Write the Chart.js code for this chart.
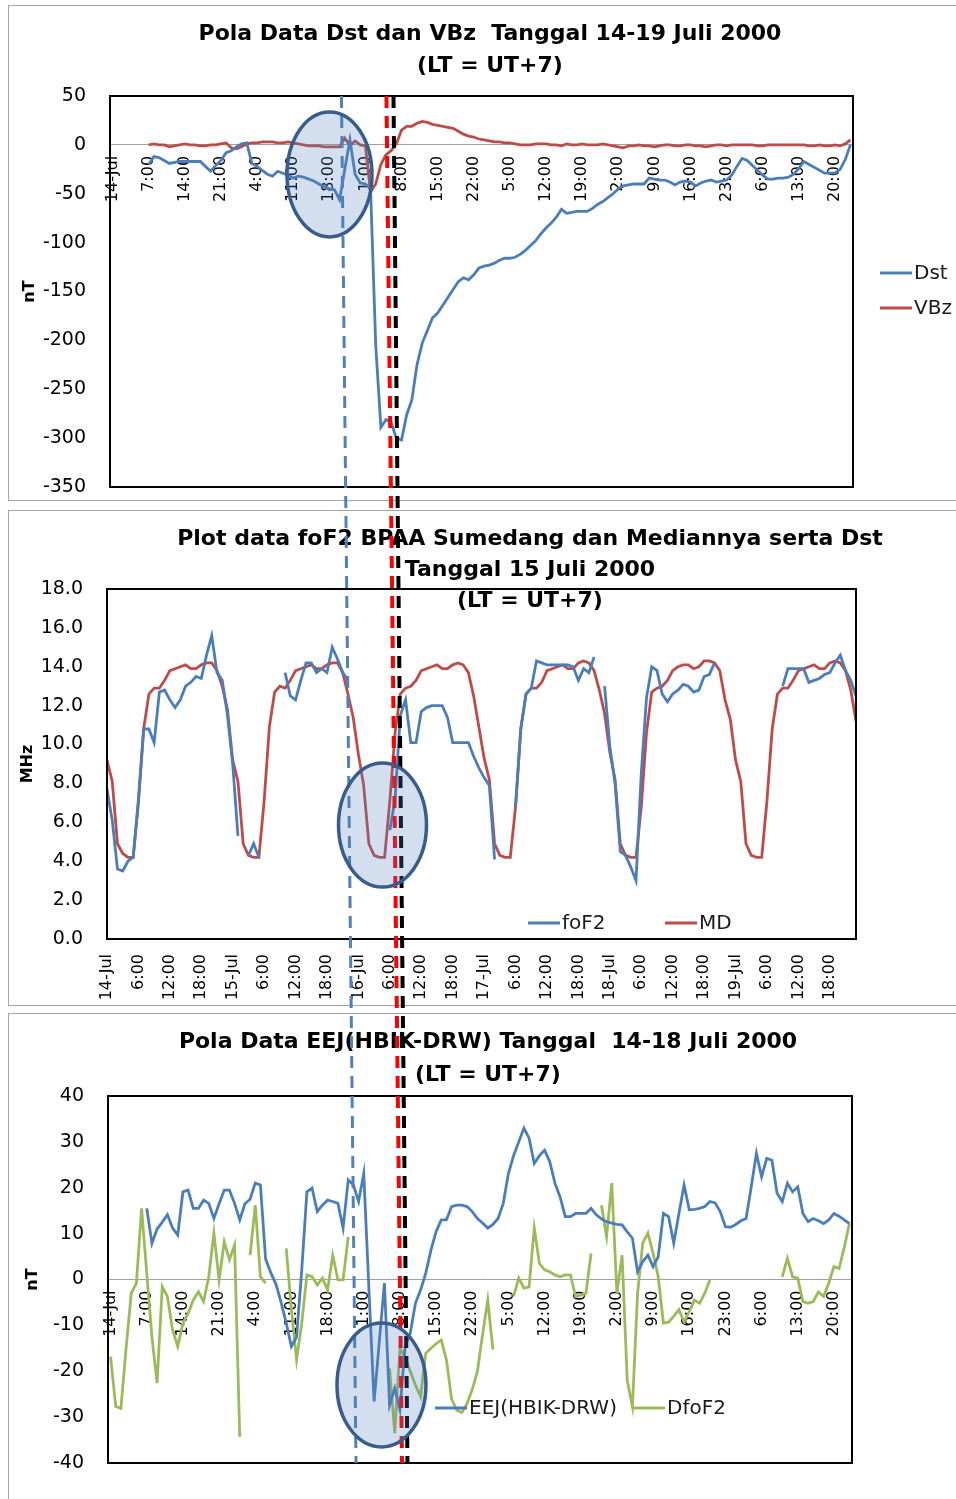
<!DOCTYPE html>
<html>
<head>
<meta charset="utf-8">
<script src="https://cdn.jsdelivr.net/npm/chart.js@4.4.1/dist/chart.umd.min.js"></script>
<style>
html,body{margin:0;padding:0;background:#fff;}
body{width:956px;height:1499px;overflow:hidden;position:relative;}
.panel{position:absolute;left:8px;width:960px;border:1px solid #a6a6a6;border-right:none;box-sizing:border-box;}
canvas{position:absolute;}
.title{position:absolute;width:900px;text-align:center;font-family:'DejaVu Sans',sans-serif;font-weight:bold;font-size:22px;white-space:pre;color:#000;}
</style>
</head>
<body>
<div class="panel" style="top:5px;height:496px"></div>
<div class="panel" style="top:510px;height:496px"></div>
<div class="panel" style="top:1013px;height:520px"></div>

<canvas id="c1" width="947" height="518" style="left:9px;top:6px;width:947px;height:518px"></canvas>
<canvas id="c2" width="947" height="494" style="left:9px;top:511px;width:947px;height:494px"></canvas>
<canvas id="c3" width="947" height="486" style="left:9px;top:1014px;width:947px;height:486px"></canvas>

<div class="title" style="left:40px;top:17px;line-height:32px">Pola Data Dst dan VBz  Tanggal 14-19 Juli 2000<br>(LT = UT+7)</div>
<div class="title" style="left:80px;top:522px;line-height:31px">Plot data foF2 BPAA Sumedang dan Mediannya serta Dst<br>Tanggal 15 Juli 2000<br>(LT = UT+7)</div>
<div class="title" style="left:38px;top:1024px;line-height:33px">Pola Data EEJ(HBIK-DRW) Tanggal  14-18 Juli 2000<br>(LT = UT+7)</div>

<canvas id="ov" width="956" height="1499" style="left:0;top:0;width:956px;height:1499px;pointer-events:none;z-index:10"></canvas>

<script>
// ---------------- categories / tick labels ----------------
const dayLabels = ['14-Jul', '15-Jul', '16-Jul', '17-Jul', '18-Jul', '19-Jul'];
const hourCategories = [];
for (let d = 0; d < dayLabels.length; d++) {
  for (let h = 0; h < 24; h++) hourCategories.push(h === 0 ? dayLabels[d] : h + ':00');
}
const dstYTicks = [-350, -300, -250, -200, -150, -100, -50, 0, 50];
const fof2YTicks = [0, 2, 4, 6, 8, 10, 12, 14, 16, 18];
const eejYTicks = [-40, -30, -20, -10, 0, 10, 20, 30, 40];
const labelEveryDstEej = 7;
const labelEveryFof2 = 6;

// ---------------- panel 1: Dst and VBz (nT) ----------------
const dst = [
  null,null,null,null,null,null,null,-20,-12,-13,-16,-19,-18,-17,-17,-17,-17,-17,-22,-27,-21,-16,-8,-6,
  -2,1,2,-19,-22,-26,-30,-32,-27,-29,-31,-34,-32,-33,-35,-37,-40,-43,-45,-46,-56,-25,5,-30,
  -39,-40,-45,-205,-289,-281,-284,-300,-302,-276,-261,-225,-203,-190,-177,-172,-164,-156,-148,-140,-136,-138,-133,-126,
  -124,-123,-121,-118,-116,-116,-115,-112,-108,-103,-98,-91,-85,-80,-74,-66,-70,-69,-68,-68,-68,-65,-61,-58,
  -54,-50,-45,-42,-41,-40,-40,-40,-34,-35,-36,-36,-38,-41,-38,-37,-38,-42,-39,-37,-36,-38,-37,-36,
  -31,-22,-14,-16,-21,-26,-31,-35,-35,-34,-34,-33,-30,-24,-17,-20,-23,-26,-29,-29,-29,-25,-15,0
];
const vbz = [
  null,null,null,null,null,null,null,0,1,0,0,-2,-1,0,1,0,0,-1,-1,0,0,1,2,-3,
  -4,-2,1,2,2,3,3,3,2,2,3,2,1,0,-1,-1,-1,-2,-2,-2,-2,7,-1,4,
  0,-1,-48,-40,-20,-10,-6,1,15,19,19,22,24,23,21,20,19,18,17,14,11,9,8,6,
  5,4,3,3,2,2,1,0,0,0,1,1,1,0,0,-1,1,0,0,1,0,0,0,1,
  0,-1,-2,-3,-1,-1,0,-1,-1,-2,-1,0,0,-1,-1,0,0,-1,-1,-2,-1,0,0,-1,
  0,0,0,0,0,-1,-1,0,0,0,0,0,0,0,0,-1,-1,0,-1,-1,0,-1,1,5
];

// ---------------- panel 2: foF2 and median (MHz) ----------------
const fof2 = [
  7.7,6.1,3.6,3.5,4.0,4.2,7.2,10.8,10.8,10.1,12.7,12.8,12.3,11.9,12.3,13.0,13.2,13.5,13.4,14.6,15.6,13.7,13.3,11.5,
  9.0,5.3,null,4.3,4.9,4.2,null,null,null,null,13.7,12.5,12.3,13.3,14.2,14.2,13.7,13.9,13.7,15.0,14.4,13.7,13.3,null,
  null,null,null,null,null,null,5.6,7.2,11.5,12.3,10.1,10.1,11.7,11.9,12.0,12.0,12.0,11.4,10.1,10.1,10.1,10.1,9.4,8.8,
  8.3,7.9,4.1,null,null,null,6.8,10.8,12.6,12.9,14.3,14.2,14.1,14.1,14.1,14.1,14.1,14.0,13.3,13.9,13.7,14.5,null,13.0,
  9.9,8.0,4.5,4.3,3.7,3.0,8.5,12.4,14.0,13.8,12.6,12.2,12.6,12.8,13.1,13.0,12.7,12.8,13.5,13.6,14.2,null,null,null,
  null,null,null,null,null,null,null,null,null,13.0,13.9,13.9,13.9,13.9,13.2,13.3,13.4,13.6,13.7,14.2,14.6,13.8,13.3,12.5
];
const md = [
  9.2,8.1,4.9,4.4,4.2,4.2,7.0,10.8,12.6,12.9,12.9,13.3,13.8,13.9,14.0,14.1,13.9,13.9,14.1,14.2,14.2,13.8,13.0,11.8,
  9.2,8.1,4.9,4.3,4.2,4.2,7.1,10.9,12.7,13.0,12.9,13.3,13.8,13.9,14.0,14.1,13.9,13.9,14.1,14.2,14.2,13.7,12.6,11.4,
  9.5,7.9,4.9,4.3,4.2,4.2,7.1,10.6,12.6,12.9,13.0,13.3,13.8,13.9,14.0,14.1,13.9,13.9,14.1,14.2,14.1,13.7,12.5,10.9,
  9.3,8.2,4.9,4.3,4.2,4.2,6.8,10.8,12.6,12.9,12.9,13.2,13.8,13.9,14.0,14.1,13.9,13.9,14.2,14.3,14.2,13.8,12.8,11.6,
  9.6,8.2,4.9,4.3,4.2,4.2,6.8,10.6,12.7,12.9,13.0,13.3,13.8,14.0,14.1,14.1,13.9,14.0,14.3,14.3,14.2,13.8,12.3,11.3,
  9.2,8.1,4.9,4.3,4.2,4.2,7.1,10.8,12.6,12.9,12.9,13.3,13.8,13.9,14.0,14.1,13.9,13.9,14.2,14.3,14.2,13.8,12.8,11.2
];

// ---------------- panel 3: EEJ and DfoF2 ----------------
const eej = [
  null,null,null,null,null,null,null,15.5,7.9,11.0,12.5,14.1,11.2,9.7,19.1,19.5,15.5,15.5,17.3,16.6,13.3,16.5,19.5,19.5,
  16.6,13.0,16.5,17.5,21.0,20.6,4.5,1.5,-1.0,-5.0,-9.5,-14.6,-12.5,2.1,19.1,19.9,14.8,16.2,17.3,17.0,16.6,11.2,21.7,20.6,
  17.0,23.1,-2.0,-26.6,-13.7,-0.8,-27.4,-23.7,-28.4,-14.6,-11.7,-5.2,-2.3,1.4,6.4,10.4,13.0,13.0,15.9,16.2,16.2,15.9,14.8,13.3,
  12.3,11.2,12.0,13.3,16.6,23.1,27.0,30.0,33.0,30.8,25.3,27.0,28.2,25.7,21.0,18.0,13.7,13.7,14.4,14.4,14.4,15.5,14.1,13.2,
  12.6,12.3,12.0,11.9,10.4,9.0,1.7,3.9,5.3,2.8,5.0,14.4,13.7,7.9,14.4,20.6,15.2,15.3,15.5,15.9,17.0,16.7,14.8,11.5,
  11.4,12.0,12.8,13.3,20.2,27.5,22.4,26.4,26.0,18.8,17.0,21.0,19.1,20.2,14.4,12.6,13.3,12.8,12.2,13.0,14.4,13.8,13.0,12.2
];
const dfof2 = [
  -16.8,-27.7,-28.1,-15.0,-3.0,-0.8,15.5,1.4,-12.5,-22.6,-1.6,-3.7,-11.0,-14.6,-9.5,-7.4,-4.5,-2.7,-4.8,0.6,10.1,-0.1,8.2,4.3,
  7.5,-34.3,null,5.3,16.2,0.6,-0.8,null,null,null,6.8,-6.6,-17.5,-9.5,1.0,0.6,-1.2,0.3,-2.3,5.3,-0.1,-0.1,9.3,null,
  null,null,null,null,null,null,-19.4,-33.5,-15.0,-17.0,-20.0,-23.0,-25.5,-16.1,-15.0,-14.0,-13.2,-17.5,-26.0,-28.5,-29.0,-27.0,-24.0,-20.0,
  -12.0,-4.5,-15.3,null,null,null,-3.7,0.3,-1.9,-1.6,11.2,3.5,2.1,1.7,1.0,0.6,1.0,1.0,-3.7,-3.4,-3.0,5.7,null,16.2,
  9.3,21.0,-3.0,5.3,-22.0,-27.7,-3.0,8.0,10.1,5.7,0.6,-9.5,-9.3,-8.0,-6.6,-9.2,-7.0,-4.5,-5.2,-3.0,-0.1,null,null,null,
  null,null,null,null,null,null,null,null,null,null,0.6,4.6,0.6,0.3,-4.8,-5.2,-4.8,-2.7,-3.7,-0.8,2.8,2.4,7.0,12.2
];

// ---------------- annotations (in data units of the charts) ----------------
const markerLines = [
  { color: '#4f81bd', width: 3, topIndex: 44.36, bottomIndex: 47.5 },
  { color: '#ff0000', width: 4, topIndex: 53.08, bottomIndex: 56.4 },
  { color: '#000000', width: 4, topIndex: 54.44, bottomIndex: 57.46 }
];
const highlightEllipses = [
  { panel: 0, xIndex: 42.04, yValue: -30.2, rx: 42.5, ry: 62.5 },
  { panel: 1, xIndex: 52.6, yValue: 5.86, rx: 44, ry: 62 },
  { panel: 2, xIndex: 52.43, yValue: -23.0, rx: 44.5, ry: 62 }
];

// ---------------- styling & plugins ----------------
const BLUE = '#4a7ebb', RED = '#be4b48', GREEN = '#9bbb59';
Chart.defaults.font.family = "'DejaVu Sans', sans-serif";
Chart.defaults.color = '#000';
Chart.defaults.animation = false;

const framePlugin = {
  id: 'frame',
  afterDraw(chart) {
    const { ctx, chartArea: a } = chart;
    ctx.save();
    ctx.strokeStyle = '#000';
    ctx.lineWidth = 2;
    ctx.strokeRect(a.left, a.top, a.right - a.left, a.bottom - a.top);
    ctx.restore();
  }
};
const placedLegend = {
  id: 'placedLegend',
  afterDraw(chart, args, opts) {
    const ctx = chart.ctx;
    ctx.save();
    ctx.font = "20px 'DejaVu Sans'";
    ctx.textBaseline = 'middle';
    ctx.textAlign = 'left';
    chart.data.datasets.forEach((ds, k) => {
      const p = opts.items[k];
      if (!p) return;
      ctx.strokeStyle = ds.borderColor;
      ctx.lineWidth = 3;
      ctx.beginPath();
      ctx.moveTo(p.x, p.y);
      ctx.lineTo(p.x + 32, p.y);
      ctx.stroke();
      ctx.fillStyle = '#1a1a1a';
      ctx.fillText(ds.label, p.x + 34, p.y + 1);
    });
    ctx.restore();
  }
};

function lineDs(label, data, color) {
  return { label, data, borderColor: color, backgroundColor: color, borderWidth: 2.8,
    pointRadius: 0, tension: 0, spanGaps: false, fill: false };
}
function yAxis(ticksArr, min, max, width, titleText, titlePad, fmt) {
  return {
    type: 'linear', min, max,
    afterFit: s => { s.width = width; },
    afterBuildTicks: s => { s.ticks = ticksArr.map(v => ({ value: v })); },
    grid: { display: false, drawTicks: false },
    border: { display: false },
    ticks: { padding: 24, font: { size: 19 }, color: '#000', callback: fmt },
    title: { display: true, text: titleText, color: '#000', font: { size: 16, weight: 'bold' },
      padding: { top: titlePad, bottom: 0 } }
  };
}
function centerXAxis(step) {
  return {
    type: 'category', position: { y: 0 }, offset: true,
    grid: { display: false, drawTicks: false },
    border: { display: true, color: '#a0a0a0', width: 1 },
    ticks: { autoSkip: false, minRotation: 90, maxRotation: 90, padding: 11,
      font: { size: 16 }, color: '#000',
      callback: v => (v % step === 0 ? hourCategories[v] : '') }
  };
}
const basePlugins = { legend: { display: false }, tooltip: { enabled: false } };

const chart1 = new Chart(document.getElementById('c1'), {
  type: 'line',
  data: { labels: hourCategories, datasets: [lineDs('Dst', dst, BLUE), lineDs('VBz', vbz, RED)] },
  options: {
    responsive: false, maintainAspectRatio: false,
    layout: { padding: { left: 0, top: 90, right: 103, bottom: 37 } },
    scales: {
      x: centerXAxis(labelEveryDstEej),
      y: yAxis(dstYTicks, -350, 50, 101, 'nT', 11, v => String(v))
    },
    plugins: Object.assign({}, basePlugins, {
      placedLegend: { items: [{ x: 871, y: 267 }, { x: 871, y: 302 }] }
    })
  },
  plugins: [framePlugin, placedLegend]
});

const chart2 = new Chart(document.getElementById('c2'), {
  type: 'line',
  data: { labels: hourCategories, datasets: [lineDs('foF2', fof2, BLUE), lineDs('MD', md, RED)] },
  options: {
    responsive: false, maintainAspectRatio: false,
    layout: { padding: { left: 0, top: 78, right: 100, bottom: 0 } },
    scales: {
      x: {
        type: 'category', position: 'bottom', offset: false,
        afterFit: s => { s.height = 66; },
        grid: { display: false, drawTicks: false },
        border: { display: false },
        ticks: { autoSkip: false, minRotation: 90, maxRotation: 90, padding: 15,
          font: { size: 16 }, color: '#000',
          callback: v => (v % labelEveryFof2 === 0 ? hourCategories[v] : '') }
      },
      y: yAxis(fof2YTicks, 0, 18, 98, 'MHz', 9, v => Number(v).toFixed(1))
    },
    plugins: Object.assign({}, basePlugins, {
      placedLegend: { items: [{ x: 519, y: 412 }, { x: 656, y: 412 }] }
    })
  },
  plugins: [framePlugin, placedLegend]
});

const chart3 = new Chart(document.getElementById('c3'), {
  type: 'line',
  data: { labels: hourCategories, datasets: [lineDs('EEJ(HBIK-DRW)', eej, BLUE), lineDs('DfoF2', dfof2, GREEN)] },
  options: {
    responsive: false, maintainAspectRatio: false,
    layout: { padding: { left: 0, top: 82, right: 104, bottom: 37 } },
    scales: {
      x: centerXAxis(labelEveryDstEej),
      y: yAxis(eejYTicks, -40, 40, 99, 'nT', 14, v => String(v))
    },
    plugins: Object.assign({}, basePlugins, {
      placedLegend: { items: [{ x: 426, y: 394 }, { x: 624, y: 394 }] }
    })
  },
  plugins: [framePlugin, placedLegend]
});

// ---------------- overlay: event marker lines and highlight ellipses ----------------
(function drawOverlay() {
  const charts = [chart1, chart2, chart3];
  const ov = document.getElementById('ov');
  const ctx = ov.getContext('2d');
  const off = c => ({ x: c.canvas.offsetLeft, y: c.canvas.offsetTop });
  const o1 = off(chart1), o3 = off(chart3);
  markerLines.forEach(m => {
    const x1 = o1.x + chart1.scales.x.getPixelForValue(m.topIndex);
    const y1 = o1.y + chart1.chartArea.top;
    const x2 = o3.x + chart3.scales.x.getPixelForValue(m.bottomIndex);
    const y2 = o3.y + chart3.chartArea.bottom;
    ctx.save();
    ctx.strokeStyle = m.color;
    ctx.lineWidth = m.width;
    ctx.setLineDash([12, 8]);
    ctx.beginPath();
    ctx.moveTo(x1, y1);
    ctx.lineTo(x2, y2);
    ctx.stroke();
    ctx.restore();
  });
  highlightEllipses.forEach(e => {
    const c = charts[e.panel];
    const o = off(c);
    const cx = o.x + c.scales.x.getPixelForValue(e.xIndex);
    const cy = o.y + c.scales.y.getPixelForValue(e.yValue);
    ctx.save();
    ctx.beginPath();
    ctx.ellipse(cx, cy, e.rx, e.ry, 0, 0, Math.PI * 2);
    ctx.fillStyle = 'rgba(79,129,189,0.25)';
    ctx.fill();
    ctx.strokeStyle = '#385d8a';
    ctx.lineWidth = 3.5;
    ctx.stroke();
    ctx.restore();
  });
})();
</script>
</body>
</html>
